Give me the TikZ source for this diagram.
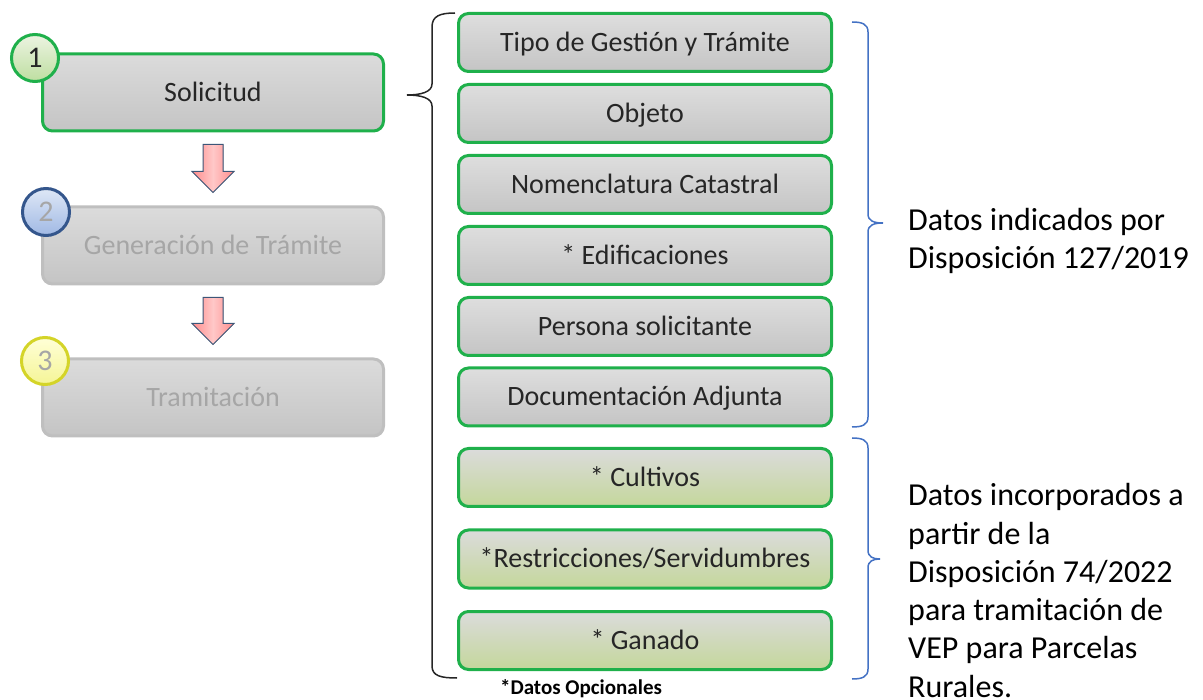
\documentclass[tikz,border=0pt]{standalone}
\usepackage{fontspec}
\setmainfont{Carlito}
\usetikzlibrary{calc}

\definecolor{okgreen}{HTML}{1FB04B}
\definecolor{offgrey}{HTML}{BFBFBF}
\definecolor{darktext}{HTML}{262626}
\definecolor{greytext}{HTML}{A6A6A6}
\definecolor{bracegreen}{HTML}{4472C4}

\tikzset{
	stepbox/.style={shape=rectangle, rounded corners=10pt, minimum width=341pt, minimum height=77pt, line width=3pt, top color=black!14, bottom color=black!23, text height=22pt, text depth=4pt, font=\fontsize{28}{34}\selectfont},
	datobox/.style={shape=rectangle, rounded corners=10pt, minimum width=373pt, minimum height=58pt, line width=3pt, draw=okgreen, text=darktext, top color=black!13, bottom color=black!23, text height=22pt, text depth=4pt, font=\fontsize{28}{34}\selectfont},
	extrabox/.style={datobox, top color=black!14, middle color=black!14, bottom color={rgb,255:red,196;green,215;blue,155}},
	numcircle/.style={shape=circle, minimum size=47pt, inner sep=0pt, line width=3pt, font=\fontsize{30}{36}\selectfont},
	blockarrow/.style={draw={rgb,255:red,60;green,86;blue,120}, line width=1pt, left color={rgb,255:red,255;green,140;blue,140}, right color={rgb,255:red,255;green,140;blue,140}, middle color={rgb,255:red,255;green,200;blue,200}},
	sidetext/.style={anchor=west, inner sep=0pt, align=left, font=\fontsize{32}{38.3}\selectfont}
}

\begin{document}
\begin{tikzpicture}[x=1pt, y=-1pt]
	\useasboundingbox (0,0) rectangle (1203,700);

	\node[stepbox, draw=okgreen, text=darktext](sol) at (213,92.5){Solicitud};
	\node[stepbox, draw=offgrey, text=greytext](gen) at (213,245.5){Generación de Trámite};
	\node[stepbox, draw=offgrey, text=greytext](tram) at (213,397.5){Tramitación};

	\node[numcircle, draw=okgreen, top color={rgb,255:red,236;green,244;blue,226}, bottom color={rgb,255:red,190;green,222;blue,160}, text=darktext](uno) at (35,58){1};
	\node[numcircle, draw={rgb,255:red,52;green,86;blue,140}, top color={rgb,255:red,222;green,231;blue,246}, bottom color={rgb,255:red,160;green,185;blue,228}, text=greytext](dos) at (46,212){2};
	\node[numcircle, draw={rgb,255:red,212;green,212;blue,40}, top color={rgb,255:red,255;green,255;blue,215}, bottom color={rgb,255:red,245;green,245;blue,150}, text=greytext](tres) at (45,361){3};

	\foreach \a/\b in {sol/gen, gen/tram}
		\filldraw[blockarrow] ($(\a.south)+(-10,12)$) -- ($(\a.south)+(10,12)$) -- ($(\b.north)+(10,-34)$) -- ($(\b.north)+(21,-34)$) -- ($(\b.north)+(0,-13)$) -- ($(\b.north)+(-21,-34)$) -- ($(\b.north)+(-10,-34)$) -- cycle;

	\node[datobox](tipo) at (645,42.5){Tipo de Gestión y Trámite};
	\node[datobox](objeto) at (645,113.5){Objeto};
	\node[datobox](nomen) at (645,184.5){Nomenclatura Catastral};
	\node[datobox](edif) at (645,255.5){* Edificaciones};
	\node[datobox](persona) at (645,326.5){Persona solicitante};
	\node[datobox](docu) at (645,397){Documentación Adjunta};
	\node[extrabox](cultivos) at (645,477.5){* Cultivos};
	\node[extrabox](restr) at (645,559){*Restricciones/Servidumbres};
	\node[extrabox](ganado) at (645,640.5){* Ganado};

	\draw[line width=1.5pt, black!85] (455,13) .. controls (440,13) and (432,16) .. (432,27) -- (432,84) .. controls (432,92) and (421,95) .. (407,95) .. controls (421,95) and (432,98) .. (432,106) -- (432,666) .. controls (432,676) and (441,678) .. (457,678);
	\draw[line width=1.5pt, bracegreen] (852,22) .. controls (862,22) and (868,24) .. (868,32) -- (868,214) .. controls (868,221) and (874,223) .. (883,223) .. controls (874,223) and (868,225) .. (868,232) -- (868,417) .. controls (868,425) and (862,427) .. (852,427);
	\draw[line width=1.5pt, bracegreen] (852,438) .. controls (862,438) and (868,440) .. (868,448) -- (868,550) .. controls (868,557) and (873,559) .. (880,559) .. controls (873,559) and (868,561) .. (868,568) -- (868,669) .. controls (868,677) and (862,679) .. (852,679);

	\node[sidetext](ley1) at (908,241){Datos indicados por\\Disposición 127/2019};
	\node[sidetext](ley2) at (908,590.5){Datos incorporados a\\partir de la\\Disposición 74/2022\\para tramitación de\\VEP para Parcelas\\Rurales.};
	\node[inner sep=0pt, font=\fontsize{21}{25}\selectfont\bfseries](nota) at (581,689){*Datos Opcionales};
\end{tikzpicture}
\end{document}
